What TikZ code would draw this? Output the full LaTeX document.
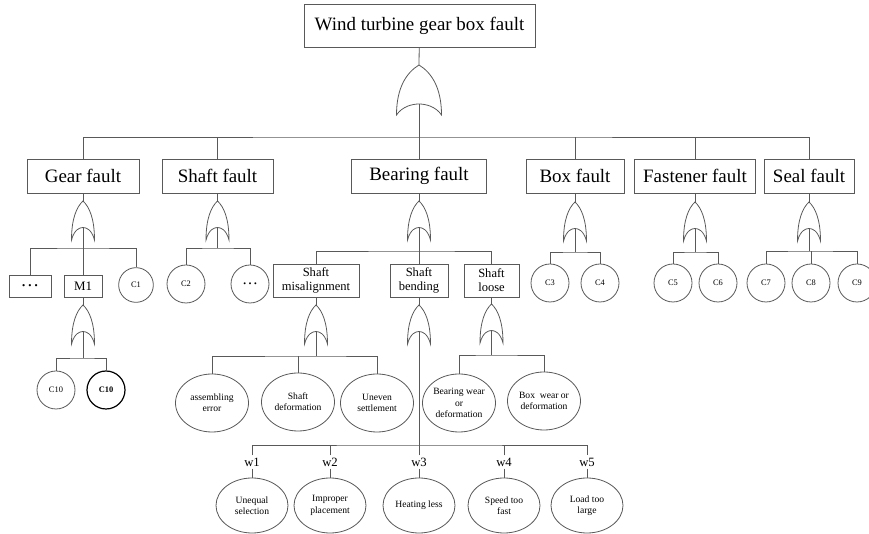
\documentclass[tikz,border=0pt]{standalone}
\usepackage{fontspec}
\setmainfont{Liberation Serif}
\usetikzlibrary{shapes}

\tikzset{
  pics/orgate/.style={code={
    \draw (0,0) .. controls (-0.55,0.15) and (-1,0.45) .. (-1,1)
      .. controls (-0.75,#1+0.05) and (-0.3,#1) .. (0,#1)
      .. controls (0.3,#1) and (0.75,#1+0.05) .. (1,1)
      .. controls (1,0.45) and (0.55,0.15) .. (0,0) -- cycle;
    \coordinate (-in) at (0,0);
    \coordinate (-out) at (0,#1);
  }},
  pics/orgate/.default=0.68
}

\begin{document}
\begin{tikzpicture}[x=0.75pt,y=-0.75pt,line width=0.6pt,color=black!65]
\tikzstyle{every node}=[text=black]
\tikzstyle{topbox}=[draw, inner sep=0pt, font=\fontsize{14.2}{17}\selectfont]
\tikzstyle{bigbox}=[topbox, minimum height=25.5pt]
\tikzstyle{midbox}=[draw, inner sep=0pt, align=center, minimum height=24.75pt,
  font=\fontsize{9.4}{10.5}\selectfont]
\tikzstyle{leaf}=[draw, circle, inner sep=0pt, minimum size=28.5pt,
  font=\fontsize{6.3}{7}\selectfont]
\tikzstyle{event}=[draw, ellipse, inner sep=0pt, align=center,
  minimum width=54.75pt, minimum height=43.5pt, font=\fontsize{7.2}{8.5}\selectfont]
\tikzstyle{lowevent}=[event, minimum width=54pt, minimum height=41.25pt]
\tikzstyle{wlabel}=[inner sep=1.5pt, font=\fontsize{9.5}{11}\selectfont]
\tikzstyle{smallgate}=[xscale=11.5, yscale=39]
\useasboundingbox (0,0) rectangle (869,534);
\clip (0,0) rectangle (869,534);

\node[topbox, minimum width=173.25pt, minimum height=32.25pt] (top) at (419.5,25.5)
  {Wind turbine gear box fault};
\pic[xscale=22.5, yscale=50] (g0) at (419,65) {orgate=0.78};
\coordinate (bus0) at (419,137);
\draw (top) -- (g0-in);
\draw (g0-out) -- (bus0);

\node[bigbox, minimum width=84pt] (gear) at (83,176) {Gear fault};
\node[bigbox, minimum width=83.25pt] (shaft) at (217.5,176) {Shaft fault};
\node[bigbox, minimum width=101.25pt] (bearing) at (419,176) {Bearing fault};
\node[bigbox, minimum width=73.5pt] (box) at (575,176) {Box fault};
\node[bigbox, minimum width=90.75pt] (fastener) at (695,176) {Fastener fault};
\node[bigbox, minimum width=67.5pt] (seal) at (809,176) {Seal fault};
\draw (gear) |- (bus0) -| (seal);
\foreach \n in {shaft,bearing,box,fastener}
  \draw (\n) -- (\n |- bus0);

\pic[smallgate] (g1) at (83,201) {orgate};
\pic[smallgate] (g2) at (217.5,201) {orgate};
\pic[smallgate] (g3) at (419,201) {orgate};
\pic[smallgate] (g4) at (575,202) {orgate};
\pic[smallgate] (g5) at (695,202) {orgate};
\pic[smallgate] (g6) at (809,202) {orgate};
\draw (gear) -- (g1-in);
\draw (shaft) -- (g2-in);
\draw (bearing) -- (g3-in);
\draw (box) -- (g4-in);
\draw (fastener) -- (g5-in);
\draw (seal) -- (g6-in);

% gear fault
\coordinate (b1) at (83,248);
\node[draw, inner sep=0pt, minimum width=31.5pt, minimum height=16.5pt,
  font=\fontsize{14}{14}\selectfont] (gdots) at (30,286) {\ldots};
\node[midbox, minimum width=28.5pt, minimum height=16.5pt,
  font=\fontsize{9.7}{11}\selectfont] (m1) at (83,286) {M1};
\node[leaf, minimum size=26pt] (c1) at (136,285) {C1};
\draw (g1-out) -- (b1);
\draw (gdots) |- (b1) -| (c1);
\draw (m1) -- (b1);
\pic[smallgate] (g11) at (83,305) {orgate};
\coordinate (b11) at (83,358);
\node[leaf] (c10) at (56,390) {C10};
\node[leaf, draw=black, line width=0.9pt] (c10b) at (106,390) {\bfseries C10};
\draw (m1) -- (g11-in);
\draw (g11-out) -- (b11);
\draw (c10) |- (b11) -| (c10b);

% shaft fault
\coordinate (b2) at (217.5,248);
\node[leaf] (c2) at (186,284) {C2};
\node[leaf, font=\fontsize{12}{12}\selectfont] (sdots) at (250,284) {\ldots};
\draw (g2-out) -- (b2);
\draw (c2) |- (b2) -| (sdots);

% bearing fault
\coordinate (b3) at (419,251);
\node[midbox, minimum width=64.5pt] (mis) at (316,280.5) {Shaft\\misalignment};
\node[midbox, minimum width=43.5pt] (bend) at (419,280.5) {Shaft\\bending};
\node[midbox, minimum width=41.25pt] (loose) at (491.5,280.5) {Shaft\\loose};
\draw (g3-out) -- (b3);
\draw (mis) |- (b3) -| (loose);
\draw (bend) -- (b3);
\pic[smallgate] (g31) at (316,305) {orgate};
\pic[smallgate] (g32) at (419,305) {orgate};
\pic[smallgate] (g33) at (491.5,304) {orgate};
\draw (mis) -- (g31-in);
\draw (bend) -- (g32-in);
\draw (loose) -- (g33-in);

\coordinate (b31) at (316,356);
\node[event] (e1) at (212,403) {assembling\\error};
\node[event] (e2) at (298,402) {Shaft\\deformation};
\node[event] (e3) at (377,403) {Uneven\\settlement};
\draw (g31-out) -- (b31);
\draw (e1) |- (b31) -| (e3);
\draw (e2) -- (e2 |- b31);

\coordinate (b33) at (491.5,355);
\node[event] (e4) at (459,403) {Bearing wear\\or\\deformation};
\node[event] (e5) at (544,401) {Box~~wear or\\deformation};
\draw (g33-out) -- (b33);
\draw (e4) |- (b33) -| (e5);

\coordinate (b32) at (419,445);
\draw (g32-out) -- (b32);
\foreach \i/\x/\t in {1/252/Unequal\\selection, 2/330/Improper\\placement,
    3/419/Heating less, 4/504/Speed too\\fast, 5/587/Load too\\large} {
  \node[wlabel] (w\i) at (\x,462) {w\i};
  \node[lowevent] (f\i) at (\x,505.5) {\t};
  \draw (w\i) -- (f\i);
}
\draw (w1) |- (b32) -| (w5);
\foreach \i in {2,3,4}
  \draw (w\i) -- (w\i |- b32);

% box, fastener, seal
\coordinate (b4) at (575,252);
\node[leaf] (c3) at (550,283) {C3};
\node[leaf] (c4) at (600,283) {C4};
\draw (g4-out) -- (b4);
\draw (c3) |- (b4) -| (c4);

\coordinate (b5) at (695,252);
\node[leaf] (c5) at (673,283) {C5};
\node[leaf] (c6) at (718,283) {C6};
\draw (g5-out) -- (b5);
\draw (c5) |- (b5) -| (c6);

\coordinate (b6) at (809,251);
\node[leaf] (c7) at (766,283) {C7};
\node[leaf] (c8) at (811,283) {C8};
\node[leaf] (c9) at (857,283) {C9};
\draw (g6-out) -- (b6);
\draw (c7) |- (b6) -| (c9);
\draw (c8) -- (c8 |- b6);
\end{tikzpicture}
\end{document}
